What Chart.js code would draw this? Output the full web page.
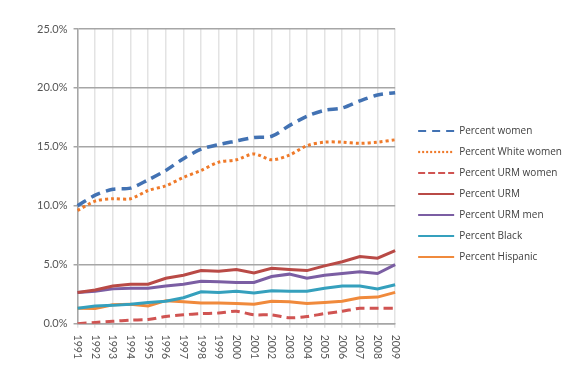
<!DOCTYPE html>
<html><head><meta charset="utf-8">
<script src="https://cdn.jsdelivr.net/npm/chart.js@4"></script>
<style>html,body{margin:0;padding:0;background:#fff}#wrap{width:585px;height:381px}</style>
</head><body><div id="wrap"><canvas id="c" width="585" height="381"></canvas></div>
<script>
const years = ['1991','1992','1993','1994','1995','1996','1997','1998','1999','2000','2001','2002','2003','2004','2005','2006','2007','2008','2009'];
const pctWomen      = [10.0,10.9,11.4,11.5,12.2,13.0,14.0,14.8,15.2,15.5,15.8,15.9,16.8,17.6,18.1,18.3,18.9,19.4,19.6];
const pctWhiteWomen = [9.6,10.4,10.6,10.6,11.3,11.7,12.4,13.0,13.7,13.9,14.4,13.9,14.3,15.1,15.4,15.4,15.3,15.4,15.6];
const pctUrmWomen   = [0.0,0.1,0.2,0.3,0.35,0.6,0.75,0.85,0.9,1.05,0.75,0.75,0.5,0.6,0.85,1.05,1.3,1.3,1.3];
const pctUrm        = [2.65,2.85,3.2,3.35,3.35,3.85,4.1,4.5,4.45,4.6,4.3,4.7,4.6,4.5,4.9,5.25,5.7,5.55,6.2];
const pctUrmMen     = [2.65,2.75,2.95,3.0,3.0,3.2,3.35,3.6,3.55,3.5,3.5,4.0,4.2,3.85,4.1,4.25,4.4,4.25,5.0];
const pctBlack      = [1.3,1.5,1.55,1.65,1.8,1.9,2.2,2.7,2.65,2.75,2.6,2.8,2.75,2.75,3.0,3.2,3.2,2.95,3.3];
const pctHispanic   = [1.3,1.28,1.6,1.65,1.5,1.95,1.85,1.75,1.75,1.7,1.65,1.9,1.85,1.7,1.8,1.9,2.2,2.25,2.65];
const yTicks = [0,5,10,15,20,25];

const tickFont = {family:'Lato, "Open Sans", sans-serif', size:11};
const xLabelPlugin = {
  id:'xlabels',
  afterDraw(chart){
    const sc = chart.scales.x, ctx = chart.ctx;
    ctx.save();
    ctx.font = '10.5px Lato, "Open Sans", sans-serif';
    ctx.fillStyle = '#555';
    ctx.textAlign = 'left';
    ctx.textBaseline = 'middle';
    years.forEach((y,i)=>{
      const x = sc.getPixelForTick(i);
      ctx.save();
      ctx.translate(x, sc.top + 11);
      ctx.rotate(Math.PI/2);
      ctx.fillText(y,0,0);
      ctx.restore();
    });
    ctx.restore();
  }
};

function ds(label, data, color, dash, width, smooth){
  return {label, data, borderColor:color, backgroundColor:color, borderDash:dash, borderWidth:width,
    pointRadius:0, pointHoverRadius:0, pointStyle:'line', tension: smooth?0.3:0, fill:false, borderCapStyle:'butt'};
}

new Chart(document.getElementById('c'), {
  type:'line',
  data:{
    labels: years,
    datasets:[
      ds('Percent women', pctWomen, '#4272b3', [10,6], 3.5, true),
      ds('Percent White women', pctWhiteWomen, '#ef7a2a', [3,3], 3, true),
      ds('Percent URM women', pctUrmWomen, '#d05452', [9,5], 3, true),
      ds('Percent URM', pctUrm, '#b94a46', [], 3, false),
      ds('Percent URM men', pctUrmMen, '#7b5ea3', [], 3, false),
      ds('Percent Black', pctBlack, '#35a0bd', [], 3, false),
      ds('Percent Hispanic', pctHispanic, '#f08a3c', [], 3, false)
    ]
  },
  options:{
    responsive:false, animation:false,
    layout:{padding:{left:31, top:29, right:13, bottom:22}},
    plugins:{
      tooltip:{enabled:false},
      legend:{
        position:'right', align:'center', maxWidth:200,
        labels:{
          usePointStyle:true, pointStyleWidth:36, padding:11,
          color:'#404040', font:{family:'"Open Sans", sans-serif', size:10},
          generateLabels(chart){
            const items = Chart.defaults.plugins.legend.labels.generateLabels(chart);
            items.forEach((it,i)=>{
              const d = chart.data.datasets[i];
              it.lineWidth = 2.2;
              const dash = d.borderDash.length ? (i===0 ? [8,6] : i===1 ? [2,2] : [7,3]) : [];
              it.lineDash = dash;
              it.strokeStyle = d.borderColor;
            });
            return items;
          }
        }
      }
    },
    scales:{
      x:{
        offset:false,
        grid:{color:'#e3e3e3', lineWidth:1.5, tickLength:4, drawOnChartArea:true},
        border:{color:'#a6a6a6', width:1.5},
        ticks:{color:'rgba(0,0,0,0)', minRotation:90, maxRotation:90, autoSkip:false, font:{size:10.5}, padding:4}
      },
      y:{
        min:0, max:25,
        afterBuildTicks(axis){ axis.ticks = yTicks.map(v=>({value:v})); },
        grid:{color:'#a6a6a6', lineWidth:1.5, tickLength:4},
        border:{color:'#a6a6a6', width:1.5},
        ticks:{color:'#555', font:tickFont, padding:6, callback:v=>v.toFixed(1)+'%'}
      },
      gap:{
        position:'right', display:true, min:0, max:1,
        grid:{display:false}, border:{display:false}, ticks:{display:false},
        afterFit(s){ s.width = 12; }
      }
    }
  },
  plugins:[xLabelPlugin]
});
</script></body></html>
